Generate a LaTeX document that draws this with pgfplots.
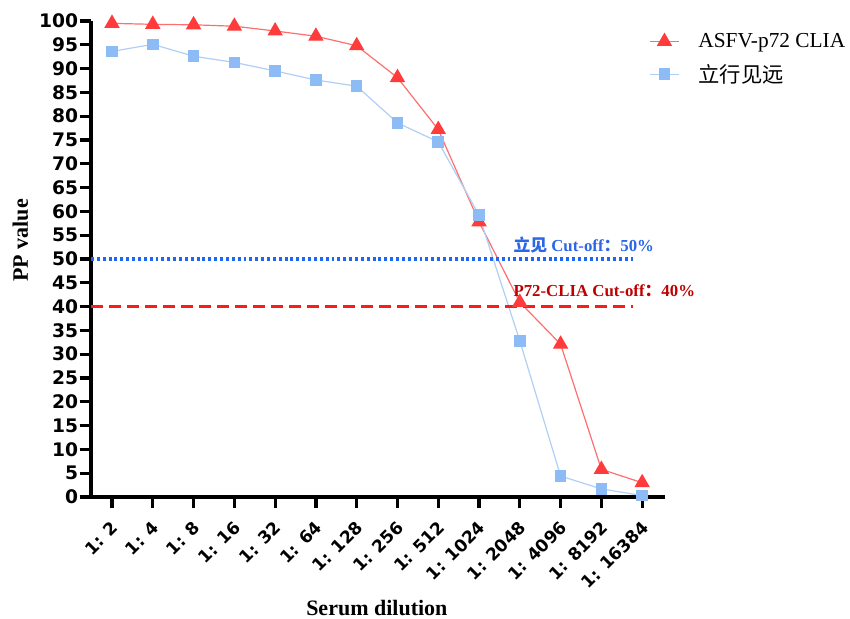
\documentclass[border=0pt]{standalone}
\usepackage{pgfplots}
\pgfplotsset{compat=1.18}
\usepackage{fontspec}
\setmainfont{Liberation Serif}
\newfontfamily\tickfont{DejaVu Sans}
\newfontfamily\cjk{Noto Sans CJK SC}
\definecolor{redline}{HTML}{FF6E6E}
\definecolor{redmark}{HTML}{FF3B3B}
\definecolor{blueline}{HTML}{AFCFF5}
\definecolor{bluemark}{HTML}{8DBBF5}
\definecolor{cutblue}{HTML}{1F66F0}
\definecolor{cutred}{HTML}{FF1A1A}
\definecolor{lblblue}{HTML}{2A66E6}
\definecolor{lblred}{HTML}{C00000}

\begin{document}
\begin{tikzpicture}
\begin{axis}[
  scale only axis,
  width=430.5pt, height=357pt,
  xmin=-0.515, xmax=13.56,
  ymin=0, ymax=100,
  axis x line*=bottom, axis y line*=left,
  axis line style={line width=3.5pt, -},
  every tick/.style={line width=2.4pt, black},
  tick align=outside,
  major tick length=8.5pt,
  ytick distance=5,
  xtick={0,...,13},
  xticklabels={1: 2,1: 4,1: 8,1: 16,1: 32,1: 64,1: 128,1: 256,1: 512,1: 1024,1: 2048,1: 4096,1: 8192,1: 16384},
  x tick label style={font=\tickfont\bfseries\fontsize{12.8}{12.8}\selectfont, rotate=45, anchor=north east, inner sep=1pt, yshift=-4.1pt, xshift=-5.9pt},
  y tick label style={font=\tickfont\bfseries\fontsize{14}{14}\selectfont, inner sep=1pt},
  /pgf/number format/assume math mode=true,
  xlabel={\bfseries Serum dilution},
  ylabel={\bfseries PP value},
  every axis x label/.style={at={(rel axis cs:0.498,0)}, anchor=base, yshift=-89pt,
    font=\fontsize{16.5}{16.5}\selectfont},
  every axis y label/.style={at={(rel axis cs:0,0.539)}, anchor=center, rotate=90, yshift=53pt,
    font=\fontsize{16.5}{16.5}\selectfont},
  legend style={at={(0.972,0.98)}, anchor=north west, draw=none, fill=none,
    font=\fontsize{16}{16}\selectfont, row sep=7pt, inner sep=0pt},
  legend cell align=left,
  legend image code/.code={\draw[mark repeat=2,mark phase=2,#1] plot coordinates {(0pt,0pt) (11pt,0pt) (22pt,0pt)};
    \path (34pt,0pt);},
  clip=false,
]
\addplot[redline, line width=0.9pt, mark=triangle*, mark size=5.8pt,
  mark options={redmark, draw=redmark, fill=redmark}]
  coordinates {
  (0,99.5) (1,99.3) (2,99.2) (3,98.9) (4,97.9) (5,96.8) (6,94.8)
  (7,88.1) (8,77.2) (9,57.8) (10,40.9) (11,32.1) (12,5.8) (13,3.0)
};
\addlegendentry{ASFV-p72 CLIA}
\addplot[blueline, line width=0.9pt, mark=square*, mark size=3.9pt,
  mark options={bluemark, draw=bluemark, fill=bluemark}]
  coordinates {
  (0,93.6) (1,95.1) (2,92.6) (3,91.3) (4,89.5) (5,87.6) (6,86.3)
  (7,78.6) (8,74.6) (9,59.2) (10,32.8) (11,4.4) (12,1.7) (13,0.3)
};
\addlegendentry{{\cjk 立行见远}}
\addplot[cutblue, line width=2.6pt, dash pattern=on 2.2pt off 2.2pt, forget plot]
  coordinates {(-0.515,50) (12.78,50)};
\addplot[cutred, line width=2.3pt, dash pattern=on 9pt off 4.5pt, forget plot]
  coordinates {(-0.515,40) (12.78,40)};
\node[anchor=base west, text=lblblue, font=\bfseries\fontsize{12.6}{12.6}\selectfont, inner sep=0pt]
  at (axis cs:9.84,51.6) {{\cjk\bfseries 立见} Cut-off{\cjk\bfseries ：}50\%};
\node[anchor=base west, text=lblred, font=\bfseries\fontsize{12.6}{12.6}\selectfont, inner sep=0pt]
  at (axis cs:9.84,42.2) {P72-CLIA Cut-off{\cjk\bfseries ：}40\%};
\end{axis}
\pgfresetboundingbox
\path[use as bounding box] ([shift={(-68.25pt,-91.5pt)}]current axis.south west)
  rectangle ([shift={(138.75pt,15.75pt)}]current axis.north east);
\end{tikzpicture}
\end{document}
